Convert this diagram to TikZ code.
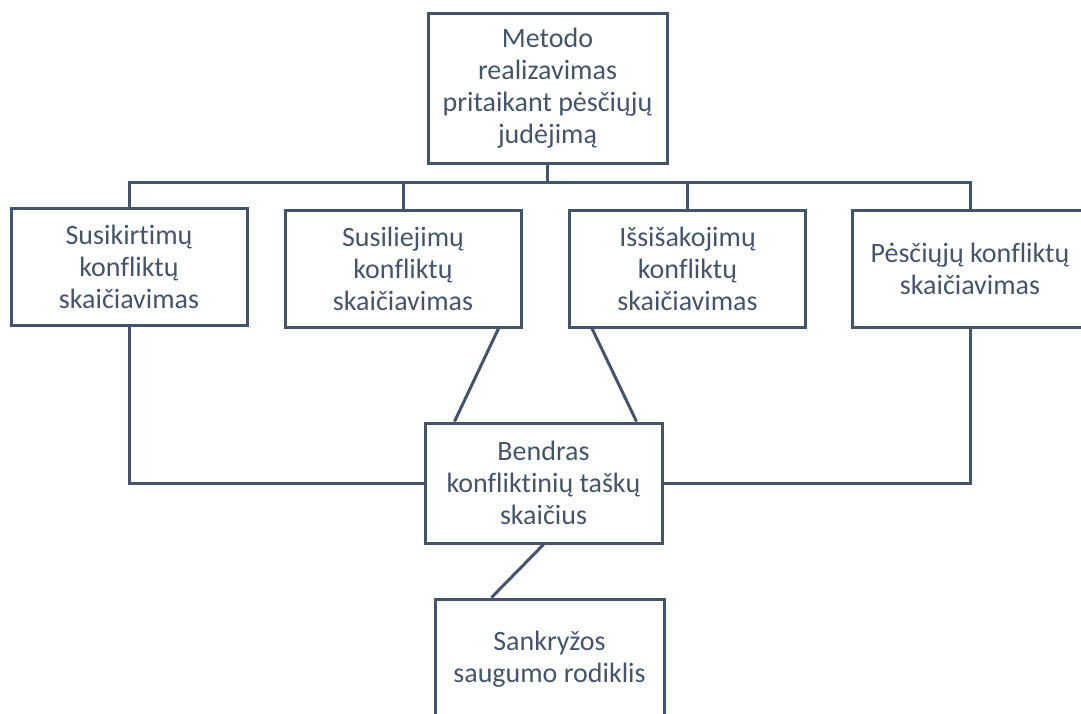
\documentclass[tikz,border=0pt]{standalone}
\usepackage{fontspec}
\setmainfont{Carlito}[Ligatures=NoCommon]
\usepackage{xcolor}
\definecolor{slate}{HTML}{44546A}
\begin{document}
\begin{tikzpicture}[x=0.5pt,y=-0.5pt,
  box/.style={draw=slate,line width=1.5pt,text=slate,align=center,inner sep=0pt,
    minimum width=118pt,minimum height=58.5pt,font=\fontsize{14}{16}\selectfont},
  link/.style={draw=slate,line width=1.5pt}]
\useasboundingbox (0,0) rectangle (1081,713);
\clip (0,0) rectangle (1081,713);
% boxes
\node[box,minimum width=119.5pt,minimum height=75pt] (top) at (547.5,88)
  {Metodo\\realizavimas\\pritaikant pėsčiųjų\\judėjimą};
\node[box] (cross) at (129,266.5) {Susikirtimų\\konfliktų\\skaičiavimas};
\node[box] (merge) at (403,268.5) {Susiliejimų\\konfliktų\\skaičiavimas};
\node[box] (split) at (687.5,268.5) {Išsišakojimų\\konfliktų\\skaičiavimas};
\node[box] (ped) at (970,268.5) {Pėsčiųjų konfliktų\\skaičiavimas};
\node[box,minimum width=118.5pt,minimum height=60pt] (sum) at (543.5,483)
  {Bendras\\konfliktinių taškų\\skaičius};
\node[box,minimum width=114.5pt,minimum height=60pt] (index) at (549.5,659)
  {Sankryžos\\saugumo rodiklis};
% connectors
\coordinate (bus) at (547.5,182);
\draw[link] (top.south) -- (bus);
\draw[link] (cross.north) |- (bus) -| (ped.north);
\draw[link] (merge.north) -- (merge.north |- bus);
\draw[link] (split.north) -- (split.north |- bus);
\draw[link] (cross.south) |- (sum.west);
\draw[link] (ped.south) |- (sum.east);
\draw[link] ([xshift=-12pt]merge.south east) -- ([xshift=15.5pt]sum.north west);
\draw[link] ([xshift=12pt]split.south west) -- ([xshift=-13.5pt]sum.north east);
\draw[link] (sum.south) -- ([xshift=29pt]index.north west);
\end{tikzpicture}
\end{document}
